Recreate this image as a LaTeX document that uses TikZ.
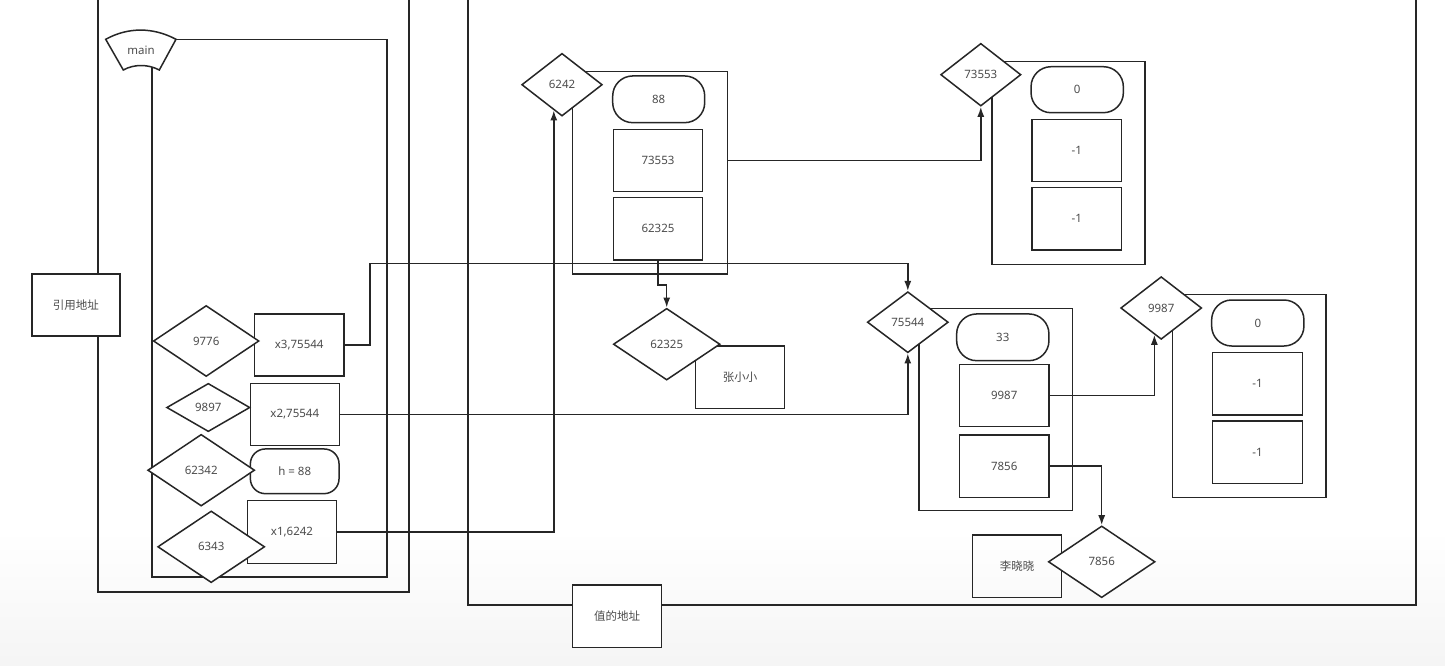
\documentclass[tikz,border=0pt]{standalone}
\usepackage{fontspec}
\setmainfont{Noto Sans}
\newfontfamily\cjk{Noto Sans CJK SC}
\usetikzlibrary{shapes.geometric,arrows.meta,calc}
\tikzset{
  ln/.style={line width=1.5pt, draw=black!85},
  box/.style={ln, rectangle, inner sep=0pt, text=black!70, font=\fontsize{11.5}{13}\selectfont},
  rbox/.style={box, rounded corners=20pt},
  hbox/.style={box, rounded corners=15pt},
  dia/.style={ln, diamond, inner sep=0pt, fill=white, text=black!70, font=\fontsize{11.5}{13}\selectfont},
  cont/.style={ln, rectangle, inner sep=0pt},
  arr/.style={ln, -{Latex[length=10pt,width=7pt]}},
  sz/.style 2 args={minimum width=#1pt, minimum height=#2pt}
}
\begin{document}
\begin{tikzpicture}[x=1pt,y=-1pt]
\clip (0,0) rectangle (1445,665);
\fill[white] (0,0) rectangle (1445,665);
\shade[top color=white, bottom color=black!4] (0,530) rectangle (1445,665);

% big frames
\draw[ln] (98,-20) rectangle (409,592);
\draw[ln] (468,-20) rectangle (1416,605);

% main shape and its container
\draw[ln] (152,67) |- (387,577) |- (176,39.3);
\draw[ln] (105.7,39.3) .. controls (128,27) and (153,27) .. (176,39.3) -- (159.3,70)
  .. controls (148,64) and (134,64) .. (123.3,70) -- cycle;
\node[text=black!70, font=\fontsize{11.5}{13}\selectfont] (main) at (141,50) {main};

% containers
\node[cont, sz={154.6}{202.3}] (c6242) at (650,172.8) {};
\node[cont, sz={153.3}{202.6}] (c73553) at (1068.4,163) {};
\node[cont, sz={153.7}{202.4}] (c75544) at (995.8,409.5) {};
\node[cont, sz={153.7}{203.4}] (c9987) at (1249.2,396) {};

% left column boxes
\node[box, sz={89.7}{62}] (bx3) at (299.2,345) {x3,75544};
\node[box, sz={89}{62.4}] (bx2) at (294.8,414.5) {x2,75544};
\node[hbox, sz={88.7}{44.7}] (bh) at (294.7,471.3) {h = 88};
\node[box, sz={89.4}{62.6}] (bx1) at (292,532) {x1,6242};

% object 6242
\node[rbox, sz={92}{46.7}] (r88) at (658.7,99.3) {88};
\node[box, sz={89.4}{62.4}] (b73553) at (658,160.5) {73553};
\node[box, sz={89.4}{62.7}] (b62325) at (658,228.7) {62325};

% object 73553
\node[rbox, sz={92.3}{46}] (r0a) at (1077.2,89.7) {0};
\node[box, sz={89.7}{62.4}] (bm1a) at (1076.8,150.5) {-1};
\node[box, sz={89.7}{62.3}] (bm1b) at (1076.8,218.8) {-1};

% string 62325
\node[box, sz={88.6}{62.3}] (bzxx) at (740,377.2) {\cjk 张小小};

% object 75544
\node[rbox, sz={92.3}{46.7}] (r33) at (1002.8,337.3) {33};
\node[box, sz={89.7}{62}] (b9987) at (1004.2,395.7) {9987};
\node[box, sz={89.7}{62.3}] (b7856) at (1004.2,466.2) {7856};

% object 9987
\node[rbox, sz={92.3}{46}] (r0b) at (1257.8,323) {0};
\node[box, sz={89.6}{62.3}] (bm1c) at (1257.5,383.8) {-1};
\node[box, sz={89.6}{62.3}] (bm1d) at (1257.5,452.2) {-1};

% string 7856
\node[box, sz={89}{62.7}] (blxx) at (1017.2,566.3) {\cjk 李晓晓};

% diamonds
\node[dia, sz={105.7}{71}] (d9776) at (206.2,341) {9776};
\node[dia, sz={83.3}{48.3}] (d9897) at (208.3,407.5) {9897};
\node[dia, sz={107}{71.7}] (d62342) at (201.2,470.2) {62342};
\node[dia, sz={107}{71.7}] (d6343) at (211.2,546.8) {6343};
\node[dia, sz={80.6}{62.7}] (d6242) at (562,84.7) {6242};
\node[dia, sz={80.3}{62.7}] (d73553) at (980.8,74.7) {73553};
\node[dia, sz={106.7}{71.7}] (d62325) at (666.7,344.2) {62325};
\node[dia, sz={81}{61}] (d75544) at (907.8,322.2) {75544};
\node[dia, sz={81}{62.7}] (d9987) at (1161.2,308) {9987};
\node[dia, sz={106.7}{71.7}] (d7856) at (1101.7,561.8) {7856};

% label boxes
\node[box, fill=white, sz={88.3}{62}] (lref) at (75.9,305) {\cjk 引用地址};
\node[box, fill=white, sz={89}{62.7}] (lval) at (617.2,616.3) {\cjk 值的地址};

% connector end points on diamond edges
\coordinate (t6242) at ($(d6242.south)!0.2!(d6242.west)$);
\coordinate (t9987) at ($(d9987.south)!0.166!(d9987.west)$);

% connectors
\draw[arr] (bx3.east) -- ++(25,0) |- ($(d75544.north)+(0,-27.7)$) -- (d75544.north);
\draw[arr] (bx2.east) -| (d75544.south);
\draw[arr] (bx1.east) -| (t6242);
\draw[arr] (b73553.east -| c6242.east) -| (d73553.south);
\draw[arr] (b62325.south) -- ++(0,24) -| (d62325.north);
\draw[arr] (b9987.east) -| (t9987);
\draw[arr] (b7856.east) -| (d7856.north);
\end{tikzpicture}
\end{document}
